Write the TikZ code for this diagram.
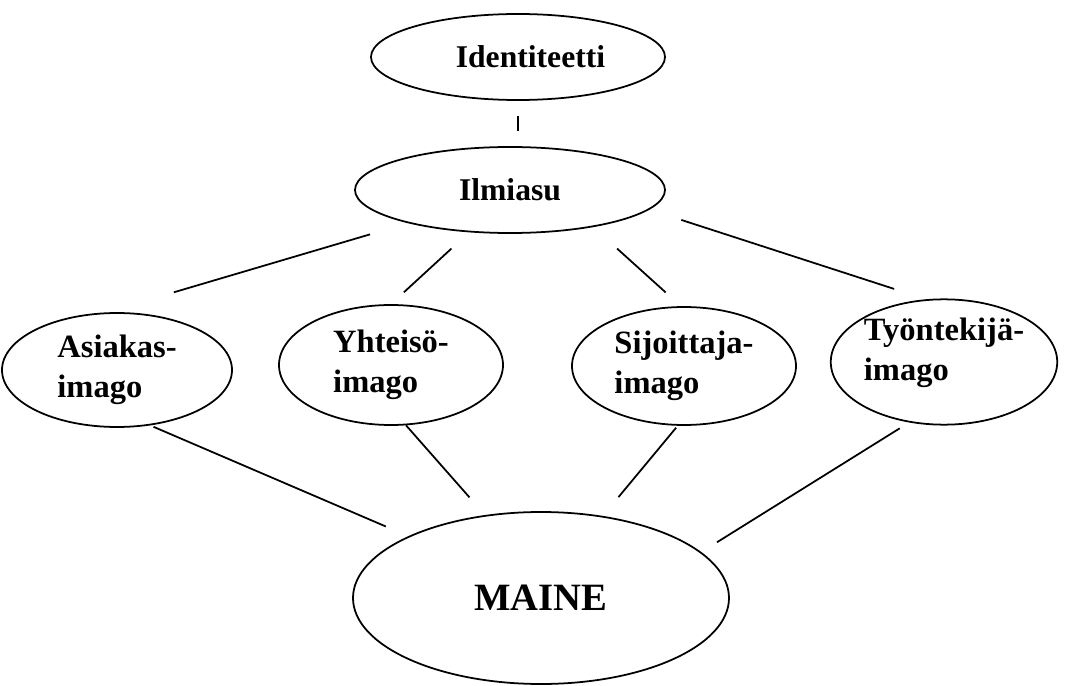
\documentclass[tikz,border=0pt]{standalone}
\usepackage{fontspec}
\setmainfont{Liberation Serif}
\usetikzlibrary{shapes.geometric}
\tikzstyle{topic} = [ellipse, draw=black, line width=1pt, inner sep=0pt, text centered, font=\fontsize{18}{21}\selectfont\bfseries]
\tikzstyle{imago} = [ellipse, draw=black, line width=1pt, inner sep=0pt, align=left, font=\fontsize{18.5}{22.8}\selectfont\bfseries]
\tikzstyle{core} = [ellipse, draw=black, line width=1pt, inner sep=0pt, text centered, font=\fontsize{22}{26}\selectfont\bfseries]
\tikzstyle{link} = [line width=1pt]

\begin{document}
\begin{tikzpicture}
    \useasboundingbox (0,0) rectangle (21.32,13.70);

    % Nodes
    \node (identity) [topic, minimum width=5.88cm, minimum height=1.72cm] at (10.36,12.56) {\hspace*{0.5cm}Identiteetti};
    \node (appearance) [topic, minimum width=6.2cm, minimum height=1.72cm] at (10.20,9.90) {Ilmiasu};
    \node (customer) [imago, minimum width=4.6cm, minimum height=2.28cm] at (2.34,6.30) {Asiakas-\\imago};
    \node (community) [imago, minimum width=4.48cm, minimum height=2.4cm] at (7.82,6.40) {Yhteisö-\\imago};
    \node (investor) [imago, minimum width=4.48cm, minimum height=2.36cm] at (13.68,6.38) {Sijoittaja-\\imago};
    \node (employee) [imago, minimum width=4.36cm, minimum height=2.42cm] at (18.88,6.46) {Työntekijä-\\imago\\[-8pt]};
    \node (reputation) [core, minimum width=7.52cm, minimum height=3.44cm] at (10.82,1.74) {MAINE};

    % Lines
    \draw [link, shorten <=0.3cm, shorten >=0.3cm] (identity.south) -- (identity.south |- appearance.north);
    \draw [link, shorten <=0.79cm, shorten >=1.42cm] (appearance.198.1) -- (customer.101);
    \draw [link, shorten <=0.48cm, shorten >=0.35cm] (appearance.226.8) -- (community.90);
    \draw [link, shorten <=0.64cm, shorten >=0.41cm] (appearance.336.2) -- (investor.93.6);
    \draw [link, shorten <=0.67cm, shorten >=0.67cm] (appearance.352.6) -- (employee.106.5);
    \draw [link, shorten <=0.07cm, shorten >=0.49cm] (customer.301) -- (reputation.155);
    \draw [link, shorten >=0.47cm] (community.284.6) -- (reputation.124.7);
    \draw [link, shorten <=0.05cm, shorten >=0.49cm] (investor.264.9) -- (reputation.53.5);
    \draw [link, shorten <=0.22cm, shorten >=0.37cm] (employee.240.2) -- (reputation.16.7);
\end{tikzpicture}
\end{document}
